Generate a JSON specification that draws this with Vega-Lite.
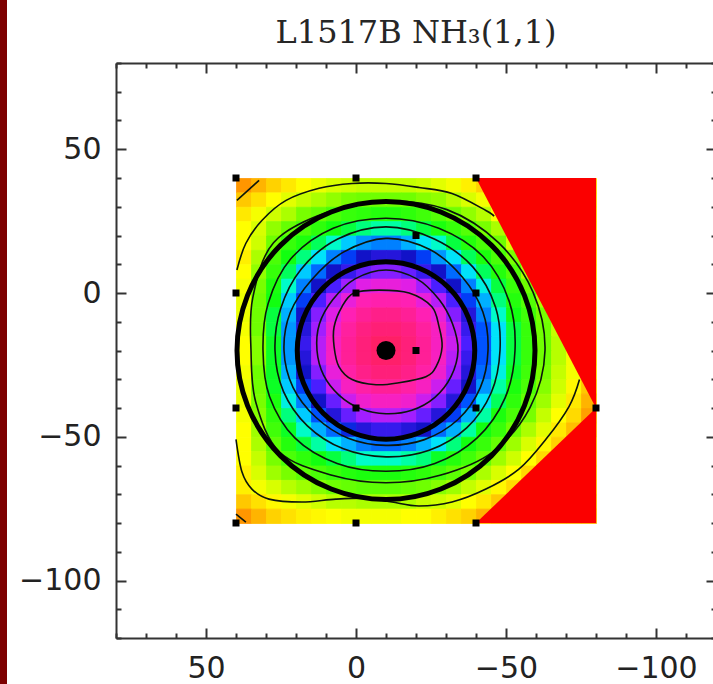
{
"$schema":"https://vega.github.io/schema/vega-lite/v6.json",
"width":600,"height":575,
"autosize":{"type":"none"},
"padding":{"left":116,"top":63,"right":0,"bottom":46},
"background":"#7d0000",
"config":{"view":{"fill":"white","stroke":"white","strokeWidth":218}},
"title":{"text":"L1517B NH₃(1,1)","font":"DejaVu Serif","fontSize":32,"fontWeight":"normal","color":"#262626","anchor":"middle","baseline":"alphabetic","offset":16,"dy":43},
"datasets":{
"grid":[
{"x":35,"y":35,"L":82},{"x":30,"y":35,"L":79},{"x":25,"y":35,"L":76},{"x":20,"y":35,"L":73},{"x":15,"y":35,"L":70},{"x":10,"y":35,"L":68},{"x":5,"y":35,"L":66},{"x":0,"y":35,"L":65},{"x":-5,"y":35,"L":64},{"x":-10,"y":35,"L":64},{"x":-15,"y":35,"L":64},{"x":-20,"y":35,"L":64},{"x":-25,"y":35,"L":65},{"x":-30,"y":35,"L":67},{"x":-35,"y":35,"L":69},{"x":-40,"y":35,"L":72},{"x":-45,"y":35,"L":76},{"x":-50,"y":35,"L":76},{"x":-55,"y":35,"L":76},{"x":-60,"y":35,"L":76},{"x":-65,"y":35,"L":76},{"x":-70,"y":35,"L":76},{"x":-75,"y":35,"L":76},{"x":-80,"y":35,"L":76},
{"x":35,"y":30,"L":77},{"x":30,"y":30,"L":74},{"x":25,"y":30,"L":70},{"x":20,"y":30,"L":67},{"x":15,"y":30,"L":64},{"x":10,"y":30,"L":62},{"x":5,"y":30,"L":60},{"x":0,"y":30,"L":58},{"x":-5,"y":30,"L":57},{"x":-10,"y":30,"L":57},{"x":-15,"y":30,"L":57},{"x":-20,"y":30,"L":57},{"x":-25,"y":30,"L":59},{"x":-30,"y":30,"L":60},{"x":-35,"y":30,"L":63},{"x":-40,"y":30,"L":66},{"x":-45,"y":30,"L":69},{"x":-50,"y":30,"L":74},{"x":-55,"y":30,"L":76},{"x":-60,"y":30,"L":76},{"x":-65,"y":30,"L":76},{"x":-70,"y":30,"L":76},{"x":-75,"y":30,"L":76},{"x":-80,"y":30,"L":76},
{"x":35,"y":25,"L":73},{"x":30,"y":25,"L":69},{"x":25,"y":25,"L":65},{"x":20,"y":25,"L":62},{"x":15,"y":25,"L":58},{"x":10,"y":25,"L":56},{"x":5,"y":25,"L":53},{"x":0,"y":25,"L":51},{"x":-5,"y":25,"L":50},{"x":-10,"y":25,"L":49},{"x":-15,"y":25,"L":49},{"x":-20,"y":25,"L":50},{"x":-25,"y":25,"L":52},{"x":-30,"y":25,"L":54},{"x":-35,"y":25,"L":57},{"x":-40,"y":25,"L":60},{"x":-45,"y":25,"L":63},{"x":-50,"y":25,"L":70},{"x":-55,"y":25,"L":76},{"x":-60,"y":25,"L":76},{"x":-65,"y":25,"L":76},{"x":-70,"y":25,"L":76},{"x":-75,"y":25,"L":76},{"x":-80,"y":25,"L":76},
{"x":35,"y":20,"L":70},{"x":30,"y":20,"L":66},{"x":25,"y":20,"L":60},{"x":20,"y":20,"L":56},{"x":15,"y":20,"L":53},{"x":10,"y":20,"L":50},{"x":5,"y":20,"L":47},{"x":0,"y":20,"L":45},{"x":-5,"y":20,"L":43},{"x":-10,"y":20,"L":42},{"x":-15,"y":20,"L":42},{"x":-20,"y":20,"L":43},{"x":-25,"y":20,"L":45},{"x":-30,"y":20,"L":48},{"x":-35,"y":20,"L":51},{"x":-40,"y":20,"L":54},{"x":-45,"y":20,"L":58},{"x":-50,"y":20,"L":62},{"x":-55,"y":20,"L":70},{"x":-60,"y":20,"L":76},{"x":-65,"y":20,"L":76},{"x":-70,"y":20,"L":76},{"x":-75,"y":20,"L":76},{"x":-80,"y":20,"L":76},
{"x":35,"y":15,"L":70},{"x":30,"y":15,"L":65},{"x":25,"y":15,"L":57},{"x":20,"y":15,"L":51},{"x":15,"y":15,"L":48},{"x":10,"y":15,"L":44},{"x":5,"y":15,"L":41},{"x":0,"y":15,"L":38},{"x":-5,"y":15,"L":36},{"x":-10,"y":15,"L":35},{"x":-15,"y":15,"L":35},{"x":-20,"y":15,"L":37},{"x":-25,"y":15,"L":39},{"x":-30,"y":15,"L":41},{"x":-35,"y":15,"L":45},{"x":-40,"y":15,"L":49},{"x":-45,"y":15,"L":53},{"x":-50,"y":15,"L":57},{"x":-55,"y":15,"L":66},{"x":-60,"y":15,"L":76},{"x":-65,"y":15,"L":76},{"x":-70,"y":15,"L":76},{"x":-75,"y":15,"L":76},{"x":-80,"y":15,"L":76},
{"x":35,"y":10,"L":72},{"x":30,"y":10,"L":62},{"x":25,"y":10,"L":53},{"x":20,"y":10,"L":47},{"x":15,"y":10,"L":43},{"x":10,"y":10,"L":39},{"x":5,"y":10,"L":35},{"x":0,"y":10,"L":32},{"x":-5,"y":10,"L":30},{"x":-10,"y":10,"L":29},{"x":-15,"y":10,"L":29},{"x":-20,"y":10,"L":30},{"x":-25,"y":10,"L":32},{"x":-30,"y":10,"L":36},{"x":-35,"y":10,"L":39},{"x":-40,"y":10,"L":44},{"x":-45,"y":10,"L":48},{"x":-50,"y":10,"L":53},{"x":-55,"y":10,"L":58},{"x":-60,"y":10,"L":66},{"x":-65,"y":10,"L":76},{"x":-70,"y":10,"L":76},{"x":-75,"y":10,"L":76},{"x":-80,"y":10,"L":76},
{"x":35,"y":5,"L":70},{"x":30,"y":5,"L":60},{"x":25,"y":5,"L":51},{"x":20,"y":5,"L":44},{"x":15,"y":5,"L":38},{"x":10,"y":5,"L":34},{"x":5,"y":5,"L":30},{"x":0,"y":5,"L":28},{"x":-5,"y":5,"L":26},{"x":-10,"y":5,"L":25},{"x":-15,"y":5,"L":25},{"x":-20,"y":5,"L":26},{"x":-25,"y":5,"L":28},{"x":-30,"y":5,"L":30},{"x":-35,"y":5,"L":34},{"x":-40,"y":5,"L":39},{"x":-45,"y":5,"L":44},{"x":-50,"y":5,"L":49},{"x":-55,"y":5,"L":54},{"x":-60,"y":5,"L":62},{"x":-65,"y":5,"L":76},{"x":-70,"y":5,"L":76},{"x":-75,"y":5,"L":76},{"x":-80,"y":5,"L":76},
{"x":35,"y":0,"L":69},{"x":30,"y":0,"L":58},{"x":25,"y":0,"L":48},{"x":20,"y":0,"L":41},{"x":15,"y":0,"L":35},{"x":10,"y":0,"L":30},{"x":5,"y":0,"L":27},{"x":0,"y":0,"L":24},{"x":-5,"y":0,"L":21},{"x":-10,"y":0,"L":20},{"x":-15,"y":0,"L":20},{"x":-20,"y":0,"L":21},{"x":-25,"y":0,"L":24},{"x":-30,"y":0,"L":27},{"x":-35,"y":0,"L":30},{"x":-40,"y":0,"L":35},{"x":-45,"y":0,"L":40},{"x":-50,"y":0,"L":45},{"x":-55,"y":0,"L":51},{"x":-60,"y":0,"L":57},{"x":-65,"y":0,"L":66},{"x":-70,"y":0,"L":76},{"x":-75,"y":0,"L":76},{"x":-80,"y":0,"L":76},
{"x":35,"y":-5,"L":68},{"x":30,"y":-5,"L":57},{"x":25,"y":-5,"L":47},{"x":20,"y":-5,"L":38},{"x":15,"y":-5,"L":32},{"x":10,"y":-5,"L":27},{"x":5,"y":-5,"L":23},{"x":0,"y":-5,"L":20},{"x":-5,"y":-5,"L":17},{"x":-10,"y":-5,"L":16},{"x":-15,"y":-5,"L":16},{"x":-20,"y":-5,"L":17},{"x":-25,"y":-5,"L":20},{"x":-30,"y":-5,"L":23},{"x":-35,"y":-5,"L":27},{"x":-40,"y":-5,"L":32},{"x":-45,"y":-5,"L":37},{"x":-50,"y":-5,"L":43},{"x":-55,"y":-5,"L":49},{"x":-60,"y":-5,"L":54},{"x":-65,"y":-5,"L":62},{"x":-70,"y":-5,"L":76},{"x":-75,"y":-5,"L":76},{"x":-80,"y":-5,"L":76},
{"x":35,"y":-10,"L":68},{"x":30,"y":-10,"L":57},{"x":25,"y":-10,"L":45},{"x":20,"y":-10,"L":37},{"x":15,"y":-10,"L":30},{"x":10,"y":-10,"L":25},{"x":5,"y":-10,"L":21},{"x":0,"y":-10,"L":17},{"x":-5,"y":-10,"L":13},{"x":-10,"y":-10,"L":11},{"x":-15,"y":-10,"L":11},{"x":-20,"y":-10,"L":13},{"x":-25,"y":-10,"L":17},{"x":-30,"y":-10,"L":20},{"x":-35,"y":-10,"L":25},{"x":-40,"y":-10,"L":29},{"x":-45,"y":-10,"L":35},{"x":-50,"y":-10,"L":41},{"x":-55,"y":-10,"L":47},{"x":-60,"y":-10,"L":52},{"x":-65,"y":-10,"L":58},{"x":-70,"y":-10,"L":66},{"x":-75,"y":-10,"L":76},{"x":-80,"y":-10,"L":76},
{"x":35,"y":-15,"L":69},{"x":30,"y":-15,"L":57},{"x":25,"y":-15,"L":45},{"x":20,"y":-15,"L":36},{"x":15,"y":-15,"L":29},{"x":10,"y":-15,"L":24},{"x":5,"y":-15,"L":19},{"x":0,"y":-15,"L":14},{"x":-5,"y":-15,"L":10},{"x":-10,"y":-15,"L":7},{"x":-15,"y":-15,"L":7},{"x":-20,"y":-15,"L":10},{"x":-25,"y":-15,"L":14},{"x":-30,"y":-15,"L":18},{"x":-35,"y":-15,"L":23},{"x":-40,"y":-15,"L":28},{"x":-45,"y":-15,"L":33},{"x":-50,"y":-15,"L":39},{"x":-55,"y":-15,"L":45},{"x":-60,"y":-15,"L":51},{"x":-65,"y":-15,"L":57},{"x":-70,"y":-15,"L":64},{"x":-75,"y":-15,"L":76},{"x":-80,"y":-15,"L":76},
{"x":35,"y":-20,"L":70},{"x":30,"y":-20,"L":59},{"x":25,"y":-20,"L":46},{"x":20,"y":-20,"L":36},{"x":15,"y":-20,"L":28},{"x":10,"y":-20,"L":23},{"x":5,"y":-20,"L":18},{"x":0,"y":-20,"L":13},{"x":-5,"y":-20,"L":8},{"x":-10,"y":-20,"L":3},{"x":-15,"y":-20,"L":3},{"x":-20,"y":-20,"L":8},{"x":-25,"y":-20,"L":13},{"x":-30,"y":-20,"L":18},{"x":-35,"y":-20,"L":22},{"x":-40,"y":-20,"L":27},{"x":-45,"y":-20,"L":33},{"x":-50,"y":-20,"L":39},{"x":-55,"y":-20,"L":45},{"x":-60,"y":-20,"L":51},{"x":-65,"y":-20,"L":57},{"x":-70,"y":-20,"L":63},{"x":-75,"y":-20,"L":70},{"x":-80,"y":-20,"L":76},
{"x":35,"y":-25,"L":70},{"x":30,"y":-25,"L":59},{"x":25,"y":-25,"L":46},{"x":20,"y":-25,"L":36},{"x":15,"y":-25,"L":29},{"x":10,"y":-25,"L":23},{"x":5,"y":-25,"L":18},{"x":0,"y":-25,"L":13},{"x":-5,"y":-25,"L":8},{"x":-10,"y":-25,"L":4},{"x":-15,"y":-25,"L":4},{"x":-20,"y":-25,"L":8},{"x":-25,"y":-25,"L":13},{"x":-30,"y":-25,"L":18},{"x":-35,"y":-25,"L":23},{"x":-40,"y":-25,"L":28},{"x":-45,"y":-25,"L":33},{"x":-50,"y":-25,"L":39},{"x":-55,"y":-25,"L":45},{"x":-60,"y":-25,"L":51},{"x":-65,"y":-25,"L":57},{"x":-70,"y":-25,"L":63},{"x":-75,"y":-25,"L":69},{"x":-80,"y":-25,"L":76},
{"x":35,"y":-30,"L":69},{"x":30,"y":-30,"L":57},{"x":25,"y":-30,"L":46},{"x":20,"y":-30,"L":37},{"x":15,"y":-30,"L":30},{"x":10,"y":-30,"L":25},{"x":5,"y":-30,"L":20},{"x":0,"y":-30,"L":15},{"x":-5,"y":-30,"L":11},{"x":-10,"y":-30,"L":8},{"x":-15,"y":-30,"L":8},{"x":-20,"y":-30,"L":11},{"x":-25,"y":-30,"L":15},{"x":-30,"y":-30,"L":19},{"x":-35,"y":-30,"L":24},{"x":-40,"y":-30,"L":29},{"x":-45,"y":-30,"L":34},{"x":-50,"y":-30,"L":40},{"x":-55,"y":-30,"L":46},{"x":-60,"y":-30,"L":52},{"x":-65,"y":-30,"L":58},{"x":-70,"y":-30,"L":64},{"x":-75,"y":-30,"L":69},{"x":-80,"y":-30,"L":75},
{"x":35,"y":-35,"L":68},{"x":30,"y":-35,"L":57},{"x":25,"y":-35,"L":46},{"x":20,"y":-35,"L":38},{"x":15,"y":-35,"L":32},{"x":10,"y":-35,"L":27},{"x":5,"y":-35,"L":22},{"x":0,"y":-35,"L":18},{"x":-5,"y":-35,"L":15},{"x":-10,"y":-35,"L":13},{"x":-15,"y":-35,"L":13},{"x":-20,"y":-35,"L":15},{"x":-25,"y":-35,"L":18},{"x":-30,"y":-35,"L":22},{"x":-35,"y":-35,"L":26},{"x":-40,"y":-35,"L":30},{"x":-45,"y":-35,"L":36},{"x":-50,"y":-35,"L":42},{"x":-55,"y":-35,"L":48},{"x":-60,"y":-35,"L":53},{"x":-65,"y":-35,"L":59},{"x":-70,"y":-35,"L":65},{"x":-75,"y":-35,"L":71},{"x":-80,"y":-35,"L":77},
{"x":35,"y":-40,"L":68},{"x":30,"y":-40,"L":58},{"x":25,"y":-40,"L":48},{"x":20,"y":-40,"L":40},{"x":15,"y":-40,"L":35},{"x":10,"y":-40,"L":30},{"x":5,"y":-40,"L":26},{"x":0,"y":-40,"L":22},{"x":-5,"y":-40,"L":19},{"x":-10,"y":-40,"L":18},{"x":-15,"y":-40,"L":18},{"x":-20,"y":-40,"L":19},{"x":-25,"y":-40,"L":22},{"x":-30,"y":-40,"L":25},{"x":-35,"y":-40,"L":29},{"x":-40,"y":-40,"L":33},{"x":-45,"y":-40,"L":39},{"x":-50,"y":-40,"L":44},{"x":-55,"y":-40,"L":50},{"x":-60,"y":-40,"L":56},{"x":-65,"y":-40,"L":61},{"x":-70,"y":-40,"L":67},{"x":-75,"y":-40,"L":73},{"x":-80,"y":-40,"L":79},
{"x":35,"y":-45,"L":69},{"x":30,"y":-45,"L":59},{"x":25,"y":-45,"L":50},{"x":20,"y":-45,"L":43},{"x":15,"y":-45,"L":38},{"x":10,"y":-45,"L":33},{"x":5,"y":-45,"L":29},{"x":0,"y":-45,"L":26},{"x":-5,"y":-45,"L":24},{"x":-10,"y":-45,"L":23},{"x":-15,"y":-45,"L":23},{"x":-20,"y":-45,"L":24},{"x":-25,"y":-45,"L":26},{"x":-30,"y":-45,"L":29},{"x":-35,"y":-45,"L":32},{"x":-40,"y":-45,"L":37},{"x":-45,"y":-45,"L":42},{"x":-50,"y":-45,"L":48},{"x":-55,"y":-45,"L":53},{"x":-60,"y":-45,"L":58},{"x":-65,"y":-45,"L":64},{"x":-70,"y":-45,"L":70},{"x":-75,"y":-45,"L":75},{"x":-80,"y":-45,"L":81},
{"x":35,"y":-50,"L":70},{"x":30,"y":-50,"L":61},{"x":25,"y":-50,"L":52},{"x":20,"y":-50,"L":46},{"x":15,"y":-50,"L":41},{"x":10,"y":-50,"L":37},{"x":5,"y":-50,"L":34},{"x":0,"y":-50,"L":31},{"x":-5,"y":-50,"L":29},{"x":-10,"y":-50,"L":28},{"x":-15,"y":-50,"L":28},{"x":-20,"y":-50,"L":29},{"x":-25,"y":-50,"L":30},{"x":-30,"y":-50,"L":34},{"x":-35,"y":-50,"L":37},{"x":-40,"y":-50,"L":42},{"x":-45,"y":-50,"L":47},{"x":-50,"y":-50,"L":51},{"x":-55,"y":-50,"L":57},{"x":-60,"y":-50,"L":62},{"x":-65,"y":-50,"L":67},{"x":-70,"y":-50,"L":73},{"x":-75,"y":-50,"L":78},{"x":-80,"y":-50,"L":80},
{"x":35,"y":-55,"L":70},{"x":30,"y":-55,"L":62},{"x":25,"y":-55,"L":55},{"x":20,"y":-55,"L":49},{"x":15,"y":-55,"L":45},{"x":10,"y":-55,"L":42},{"x":5,"y":-55,"L":39},{"x":0,"y":-55,"L":37},{"x":-5,"y":-55,"L":35},{"x":-10,"y":-55,"L":34},{"x":-15,"y":-55,"L":34},{"x":-20,"y":-55,"L":35},{"x":-25,"y":-55,"L":37},{"x":-30,"y":-55,"L":39},{"x":-35,"y":-55,"L":43},{"x":-40,"y":-55,"L":47},{"x":-45,"y":-55,"L":51},{"x":-50,"y":-55,"L":56},{"x":-55,"y":-55,"L":61},{"x":-60,"y":-55,"L":66},{"x":-65,"y":-55,"L":71},{"x":-70,"y":-55,"L":76},{"x":-75,"y":-55,"L":78},{"x":-80,"y":-55,"L":78},
{"x":35,"y":-60,"L":70},{"x":30,"y":-60,"L":64},{"x":25,"y":-60,"L":58},{"x":20,"y":-60,"L":53},{"x":15,"y":-60,"L":50},{"x":10,"y":-60,"L":47},{"x":5,"y":-60,"L":45},{"x":0,"y":-60,"L":43},{"x":-5,"y":-60,"L":41},{"x":-10,"y":-60,"L":41},{"x":-15,"y":-60,"L":41},{"x":-20,"y":-60,"L":42},{"x":-25,"y":-60,"L":43},{"x":-30,"y":-60,"L":46},{"x":-35,"y":-60,"L":49},{"x":-40,"y":-60,"L":52},{"x":-45,"y":-60,"L":56},{"x":-50,"y":-60,"L":61},{"x":-55,"y":-60,"L":65},{"x":-60,"y":-60,"L":70},{"x":-65,"y":-60,"L":75},{"x":-70,"y":-60,"L":78},{"x":-75,"y":-60,"L":78},{"x":-80,"y":-60,"L":78},
{"x":35,"y":-65,"L":72},{"x":30,"y":-65,"L":66},{"x":25,"y":-65,"L":61},{"x":20,"y":-65,"L":58},{"x":15,"y":-65,"L":55},{"x":10,"y":-65,"L":53},{"x":5,"y":-65,"L":51},{"x":0,"y":-65,"L":49},{"x":-5,"y":-65,"L":48},{"x":-10,"y":-65,"L":48},{"x":-15,"y":-65,"L":48},{"x":-20,"y":-65,"L":49},{"x":-25,"y":-65,"L":50},{"x":-30,"y":-65,"L":52},{"x":-35,"y":-65,"L":55},{"x":-40,"y":-65,"L":58},{"x":-45,"y":-65,"L":62},{"x":-50,"y":-65,"L":66},{"x":-55,"y":-65,"L":70},{"x":-60,"y":-65,"L":75},{"x":-65,"y":-65,"L":78},{"x":-70,"y":-65,"L":78},{"x":-75,"y":-65,"L":78},{"x":-80,"y":-65,"L":78},
{"x":35,"y":-70,"L":72},{"x":30,"y":-70,"L":69},{"x":25,"y":-70,"L":66},{"x":20,"y":-70,"L":63},{"x":15,"y":-70,"L":61},{"x":10,"y":-70,"L":59},{"x":5,"y":-70,"L":57},{"x":0,"y":-70,"L":56},{"x":-5,"y":-70,"L":55},{"x":-10,"y":-70,"L":55},{"x":-15,"y":-70,"L":55},{"x":-20,"y":-70,"L":56},{"x":-25,"y":-70,"L":57},{"x":-30,"y":-70,"L":59},{"x":-35,"y":-70,"L":61},{"x":-40,"y":-70,"L":64},{"x":-45,"y":-70,"L":67},{"x":-50,"y":-70,"L":71},{"x":-55,"y":-70,"L":75},{"x":-60,"y":-70,"L":78},{"x":-65,"y":-70,"L":78},{"x":-70,"y":-70,"L":78},{"x":-75,"y":-70,"L":78},{"x":-80,"y":-70,"L":78},
{"x":35,"y":-75,"L":77},{"x":30,"y":-75,"L":74},{"x":25,"y":-75,"L":71},{"x":20,"y":-75,"L":69},{"x":15,"y":-75,"L":67},{"x":10,"y":-75,"L":65},{"x":5,"y":-75,"L":63},{"x":0,"y":-75,"L":63},{"x":-5,"y":-75,"L":62},{"x":-10,"y":-75,"L":62},{"x":-15,"y":-75,"L":62},{"x":-20,"y":-75,"L":62},{"x":-25,"y":-75,"L":64},{"x":-30,"y":-75,"L":65},{"x":-35,"y":-75,"L":67},{"x":-40,"y":-75,"L":70},{"x":-45,"y":-75,"L":73},{"x":-50,"y":-75,"L":77},{"x":-55,"y":-75,"L":79},{"x":-60,"y":-75,"L":79},{"x":-65,"y":-75,"L":79},{"x":-70,"y":-75,"L":79},{"x":-75,"y":-75,"L":79},{"x":-80,"y":-75,"L":79},
{"x":35,"y":-80,"L":82},{"x":30,"y":-80,"L":79},{"x":25,"y":-80,"L":76},{"x":20,"y":-80,"L":74},{"x":15,"y":-80,"L":72},{"x":10,"y":-80,"L":71},{"x":5,"y":-80,"L":70},{"x":0,"y":-80,"L":69},{"x":-5,"y":-80,"L":69},{"x":-10,"y":-80,"L":69},{"x":-15,"y":-80,"L":69},{"x":-20,"y":-80,"L":70},{"x":-25,"y":-80,"L":70},{"x":-30,"y":-80,"L":72},{"x":-35,"y":-80,"L":74},{"x":-40,"y":-80,"L":76},{"x":-45,"y":-80,"L":79},{"x":-50,"y":-80,"L":80},{"x":-55,"y":-80,"L":80},{"x":-60,"y":-80,"L":80},{"x":-65,"y":-80,"L":80},{"x":-70,"y":-80,"L":80},{"x":-75,"y":-80,"L":80},{"x":-80,"y":-80,"L":80}
],
"blank":[
{"g":"top","x":-40,"hi":40,"lo":40},{"g":"top","x":-80,"hi":40,"lo":-40},
{"g":"bottom","x":-40,"hi":-80,"lo":-80},{"g":"bottom","x":-80,"hi":-80,"lo":-40}
],
"closed":[
{"c":"A","i":0,"x":0.7,"y":0},{"c":"A","i":1,"x":-7.7,"y":1},{"c":"A","i":2,"x":-17.7,"y":0},{"c":"A","i":3,"x":-25.3,"y":-4.8},{"c":"A","i":4,"x":-27.7,"y":-11.8},{"c":"A","i":5,"x":-28.7,"y":-18.7},{"c":"A","i":6,"x":-26.7,"y":-25.6},{"c":"A","i":7,"x":-23.3,"y":-29.1},{"c":"A","i":8,"x":-14.3,"y":-31.2},{"c":"A","i":9,"x":-6.7,"y":-31.9},{"c":"A","i":10,"x":1.3,"y":-30.1},{"c":"A","i":11,"x":5.7,"y":-25.6},{"c":"A","i":12,"x":7.3,"y":-18.7},{"c":"A","i":13,"x":7.3,"y":-11.8},{"c":"A","i":14,"x":4.7,"y":-4.8},
{"c":"B","i":0,"x":13,"y":-20},{"c":"B","i":1,"x":12.2,"y":-10.8},{"c":"B","i":2,"x":7.7,"y":-2.3},{"c":"B","i":3,"x":0.3,"y":4.9},{"c":"B","i":4,"x":-10,"y":8},{"c":"B","i":5,"x":-20.3,"y":4.9},{"c":"B","i":6,"x":-27.7,"y":-2.3},{"c":"B","i":7,"x":-32.2,"y":-10.8},{"c":"B","i":8,"x":-34,"y":-20},{"c":"B","i":9,"x":-31.7,"y":-29},{"c":"B","i":10,"x":-26.3,"y":-36.3},{"c":"B","i":11,"x":-18.6,"y":-40.8},{"c":"B","i":12,"x":-10,"y":-42},{"c":"B","i":13,"x":-1.6,"y":-40.3},{"c":"B","i":14,"x":5.6,"y":-35.6},{"c":"B","i":15,"x":10.8,"y":-28.6},
{"c":"C","i":0,"x":24,"y":-20},{"c":"C","i":1,"x":21.9,"y":-6.8},{"c":"C","i":2,"x":14.7,"y":4.7},{"c":"C","i":3,"x":4.2,"y":14.2},{"c":"C","i":4,"x":-10,"y":19},{"c":"C","i":5,"x":-24.6,"y":15.1},{"c":"C","i":6,"x":-35.5,"y":5.5},{"c":"C","i":7,"x":-42.3,"y":-6.6},{"c":"C","i":8,"x":-44,"y":-20},{"c":"C","i":9,"x":-41.4,"y":-33},{"c":"C","i":10,"x":-34,"y":-44},{"c":"C","i":11,"x":-22.8,"y":-51},{"c":"C","i":12,"x":-10,"y":-53},{"c":"C","i":13,"x":2.6,"y":-50.5},{"c":"C","i":14,"x":13.3,"y":-43.3},{"c":"C","i":15,"x":21,"y":-32.8},
{"c":"D","i":0,"x":27,"y":-20},{"c":"D","i":1,"x":25.1,"y":-5.4},{"c":"D","i":2,"x":18.3,"y":8.3},{"c":"D","i":3,"x":6.1,"y":18.8},{"c":"D","i":4,"x":-10,"y":23},{"c":"D","i":5,"x":-26.1,"y":18.8},{"c":"D","i":6,"x":-39,"y":9},{"c":"D","i":7,"x":-46.5,"y":-4.9},{"c":"D","i":8,"x":-48,"y":-20},{"c":"D","i":9,"x":-45.1,"y":-34.6},{"c":"D","i":10,"x":-36.9,"y":-46.9},{"c":"D","i":11,"x":-24.4,"y":-54.7},{"c":"D","i":12,"x":-10,"y":-57},{"c":"D","i":13,"x":4.2,"y":-54.2},{"c":"D","i":14,"x":16.2,"y":-46.2},{"c":"D","i":15,"x":24.2,"y":-34.2},
{"c":"E","i":0,"x":31,"y":-20},{"c":"E","i":1,"x":29.3,"y":-3.7},{"c":"E","i":2,"x":21.8,"y":11.8},{"c":"E","i":3,"x":7.6,"y":22.5},{"c":"E","i":4,"x":-10,"y":26},{"c":"E","i":5,"x":-27.6,"y":22.5},{"c":"E","i":6,"x":-42.5,"y":12.5},{"c":"E","i":7,"x":-51.1,"y":-3},{"c":"E","i":8,"x":-53,"y":-20},{"c":"E","i":9,"x":-49.7,"y":-36.5},{"c":"E","i":10,"x":-40.4,"y":-50.4},{"c":"E","i":11,"x":-26.3,"y":-59.3},{"c":"E","i":12,"x":-10,"y":-62},{"c":"E","i":13,"x":6.3,"y":-59.3},{"c":"E","i":14,"x":20.4,"y":-50.4},{"c":"E","i":15,"x":28.8,"y":-36.1},
{"c":"F","i":0,"x":35,"y":-20},{"c":"F","i":1,"x":34.4,"y":-1.6},{"c":"F","i":2,"x":27.5,"y":17.5},{"c":"F","i":3,"x":9.9,"y":28},{"c":"F","i":4,"x":-10,"y":32},{"c":"F","i":5,"x":-30.3,"y":29},{"c":"F","i":6,"x":-47.5,"y":17.5},{"c":"F","i":7,"x":-59,"y":0.3},{"c":"F","i":8,"x":-63,"y":-20},{"c":"F","i":9,"x":-58,"y":-39.9},{"c":"F","i":10,"x":-45.4,"y":-55.4},{"c":"F","i":11,"x":-28,"y":-63.4},{"c":"F","i":12,"x":-10,"y":-66},{"c":"F","i":13,"x":8,"y":-63.4},{"c":"F","i":14,"x":25.4,"y":-55.4},{"c":"F","i":15,"x":33.4,"y":-38}
],
"open":[
{"c":"T","i":0,"x":39.7,"y":8},{"c":"T","i":1,"x":36.7,"y":17.3},{"c":"T","i":2,"x":31.3,"y":25.3},{"c":"T","i":3,"x":23.3,"y":32.2},{"c":"T","i":4,"x":12.3,"y":36.4},{"c":"T","i":5,"x":1.3,"y":38.1},{"c":"T","i":6,"x":-10,"y":38.1},{"c":"T","i":7,"x":-21,"y":36.7},{"c":"T","i":8,"x":-32,"y":34.6},{"c":"T","i":9,"x":-43.3,"y":28.7},{"c":"T","i":10,"x":-46,"y":26.7},
{"c":"U","i":0,"x":40,"y":-50.9},{"c":"U","i":1,"x":38,"y":-62.3},{"c":"U","i":2,"x":34.7,"y":-68.2},{"c":"U","i":3,"x":29,"y":-71.7},{"c":"U","i":4,"x":18,"y":-72.7},{"c":"U","i":5,"x":6.7,"y":-71.7},{"c":"U","i":6,"x":-4.3,"y":-71.4},{"c":"U","i":7,"x":-12,"y":-72.7},{"c":"U","i":8,"x":-21,"y":-74.1},{"c":"U","i":9,"x":-32,"y":-72.7},{"c":"U","i":10,"x":-43.3,"y":-68.2},{"c":"U","i":11,"x":-54.3,"y":-61.3},{"c":"U","i":12,"x":-63.3,"y":-50.9},{"c":"U","i":13,"x":-71,"y":-39.5},{"c":"U","i":14,"x":-74.5,"y":-30.1},
{"c":"K1","i":0,"x":39.7,"y":32.2},{"c":"K1","i":1,"x":32.3,"y":39.2},
{"c":"K2","i":0,"x":40,"y":-76.9},{"c":"K2","i":1,"x":36.7,"y":-79.7}
],
"pts":[{"x":40,"y":40},{"x":0,"y":40},{"x":-40,"y":40},{"x":-20,"y":20},{"x":40,"y":0},{"x":0,"y":0},{"x":-40,"y":0},{"x":-20,"y":-20},{"x":40,"y":-40},{"x":0,"y":-40},{"x":-40,"y":-40},{"x":-80,"y":-40},{"x":40,"y":-80},{"x":0,"y":-80},{"x":-40,"y":-80}],
"center":[{"x":-10,"y":-20}]
},
"layer":[
{"data":{"name":"grid"},
 "mark":{"type":"rect","strokeWidth":0.8},
 "encoding":{
  "x":{"field":"x","type":"quantitative","bin":{"binned":true,"step":5},"scale":{"domain":[80,-120],"nice":false,"zero":false},
   "axis":{"orient":"bottom","title":null,"grid":false,"values":[-120,-110,-100,-90,-80,-70,-60,-50,-40,-30,-20,-10,0,10,20,30,40,50,60,70,80],
    "labelExpr":"datum.value % 50 === 0 ? datum.label : ''",
    "tickSize":{"condition":{"test":"datum.value % 50 === 0","value":-10},"value":-5},
    "tickWidth":2,"tickColor":"#333","domainColor":"#333","domainWidth":2,
    "labelFont":"DejaVu Sans","labelFontSize":30,"labelColor":"#222","labelPadding":25,"labelOverlap":false,"labelFlush":false,"labelBound":false}},
  "y":{"field":"y","type":"quantitative","bin":{"binned":true,"step":5},"scale":{"domain":[-120,80],"nice":false,"zero":false},
   "axis":{"orient":"left","title":null,"grid":false,"values":[-120,-110,-100,-90,-80,-70,-60,-50,-40,-30,-20,-10,0,10,20,30,40,50,60,70,80],
    "labelExpr":"datum.value % 50 === 0 ? datum.label : ''",
    "tickSize":{"condition":{"test":"datum.value % 50 === 0","value":-10},"value":-5},
    "tickWidth":2,"tickColor":"#333","domainColor":"#333","domainWidth":2,
    "labelFont":"DejaVu Sans","labelFontSize":30,"labelColor":"#222","labelPadding":25,"labelOverlap":false,"labelFlush":false,"labelBound":false}},
  "color":{"field":"L","type":"quantitative","legend":null,
   "scale":{"type":"linear","interpolate":"rgb","domain":[0,10,17,21,24,27,30,32.4,36,38.8,41.2,43.6,46.8,58,64,70,76,82,88,100],
    "range":["#ff1f5a","#ff1f82","#ff20b4","#e01ee6","#a21eff","#4a1eff","#1212c8","#0046ff","#0096ff","#00e0ff","#00ffc4","#00ff64","#10ff10","#78ff00","#c4ff00","#ffff00","#ffd200","#ff9600","#e85a00","#ff0000"]}},
  "stroke":{"field":"L","type":"quantitative","legend":null,
   "scale":{"type":"linear","interpolate":"rgb","domain":[0,10,17,21,24,27,30,32.4,36,38.8,41.2,43.6,46.8,58,64,70,76,82,88,100],
    "range":["#ff1f5a","#ff1f82","#ff20b4","#e01ee6","#a21eff","#4a1eff","#1212c8","#0046ff","#0096ff","#00e0ff","#00ffc4","#00ff64","#10ff10","#78ff00","#c4ff00","#ffff00","#ffd200","#ff9600","#e85a00","#ff0000"]}}
 }},
{"data":{"name":"blank"},
 "mark":{"type":"area","color":"#fb0000","opacity":1,"interpolate":"linear"},
 "encoding":{
  "x":{"field":"x","type":"quantitative","scale":{"domain":[80,-120],"nice":false,"zero":false},"axis":null},
  "y":{"field":"hi","type":"quantitative","stack":null,"scale":{"domain":[-120,80],"nice":false,"zero":false},"axis":null},
  "y2":{"field":"lo"},
  "detail":{"field":"g"}
 }},
{"data":{"name":"closed"},
 "mark":{"type":"line","interpolate":"cardinal-closed","color":"#0c160c","strokeWidth":1.6,"opacity":1},
 "encoding":{
  "x":{"field":"x","type":"quantitative","scale":{"domain":[80,-120],"nice":false,"zero":false},"axis":null},
  "y":{"field":"y","type":"quantitative","scale":{"domain":[-120,80],"nice":false,"zero":false},"axis":null},
  "detail":{"field":"c"},
  "order":{"field":"i","type":"quantitative"}
 }},
{"data":{"name":"open"},
 "mark":{"type":"line","interpolate":"cardinal","color":"#0c160c","strokeWidth":1.6,"opacity":1},
 "encoding":{
  "x":{"field":"x","type":"quantitative","scale":{"domain":[80,-120],"nice":false,"zero":false},"axis":null},
  "y":{"field":"y","type":"quantitative","scale":{"domain":[-120,80],"nice":false,"zero":false},"axis":null},
  "detail":{"field":"c"},
  "order":{"field":"i","type":"quantitative"}
 }},
{"data":{"name":"center"},
 "mark":{"type":"point","shape":"circle","filled":false,"stroke":"black","strokeWidth":5,"opacity":1,"size":31506},
 "encoding":{
  "x":{"field":"x","type":"quantitative","scale":{"domain":[80,-120],"nice":false,"zero":false},
   "axis":{"orient":"top","title":null,"grid":false,"labels":false,"values":[-120,-110,-100,-90,-80,-70,-60,-50,-40,-30,-20,-10,0,10,20,30,40,50,60,70,80],
    "tickSize":{"condition":{"test":"datum.value % 50 === 0","value":-10},"value":-5},
    "tickWidth":2,"tickColor":"#333","domainColor":"#333","domainWidth":2}},
  "y":{"field":"y","type":"quantitative","scale":{"domain":[-120,80],"nice":false,"zero":false},
   "axis":{"orient":"right","title":null,"grid":false,"labels":false,"values":[-120,-110,-100,-90,-80,-70,-60,-50,-40,-30,-20,-10,0,10,20,30,40,50,60,70,80],
    "tickSize":{"condition":{"test":"datum.value % 50 === 0","value":-10},"value":-5},
    "tickWidth":2,"tickColor":"#333","domainColor":"#333","domainWidth":2}}
 }},
{"data":{"name":"center"},
 "mark":{"type":"point","shape":"circle","filled":false,"stroke":"black","strokeWidth":5,"opacity":1,"size":88804},
 "encoding":{
  "x":{"field":"x","type":"quantitative","scale":{"domain":[80,-120],"nice":false,"zero":false},"axis":null},
  "y":{"field":"y","type":"quantitative","scale":{"domain":[-120,80],"nice":false,"zero":false},"axis":null}
 }},
{"data":{"name":"pts"},
 "mark":{"type":"point","shape":"square","filled":true,"color":"black","opacity":1,"size":49},
 "encoding":{
  "x":{"field":"x","type":"quantitative","scale":{"domain":[80,-120],"nice":false,"zero":false},"axis":null},
  "y":{"field":"y","type":"quantitative","scale":{"domain":[-120,80],"nice":false,"zero":false},"axis":null}
 }},
{"data":{"name":"center"},
 "mark":{"type":"point","shape":"circle","filled":true,"color":"black","opacity":1,"size":361},
 "encoding":{
  "x":{"field":"x","type":"quantitative","scale":{"domain":[80,-120],"nice":false,"zero":false},"axis":null},
  "y":{"field":"y","type":"quantitative","scale":{"domain":[-120,80],"nice":false,"zero":false},"axis":null}
 }}
],
"resolve":{"axis":{"x":"independent","y":"independent"}}
}
